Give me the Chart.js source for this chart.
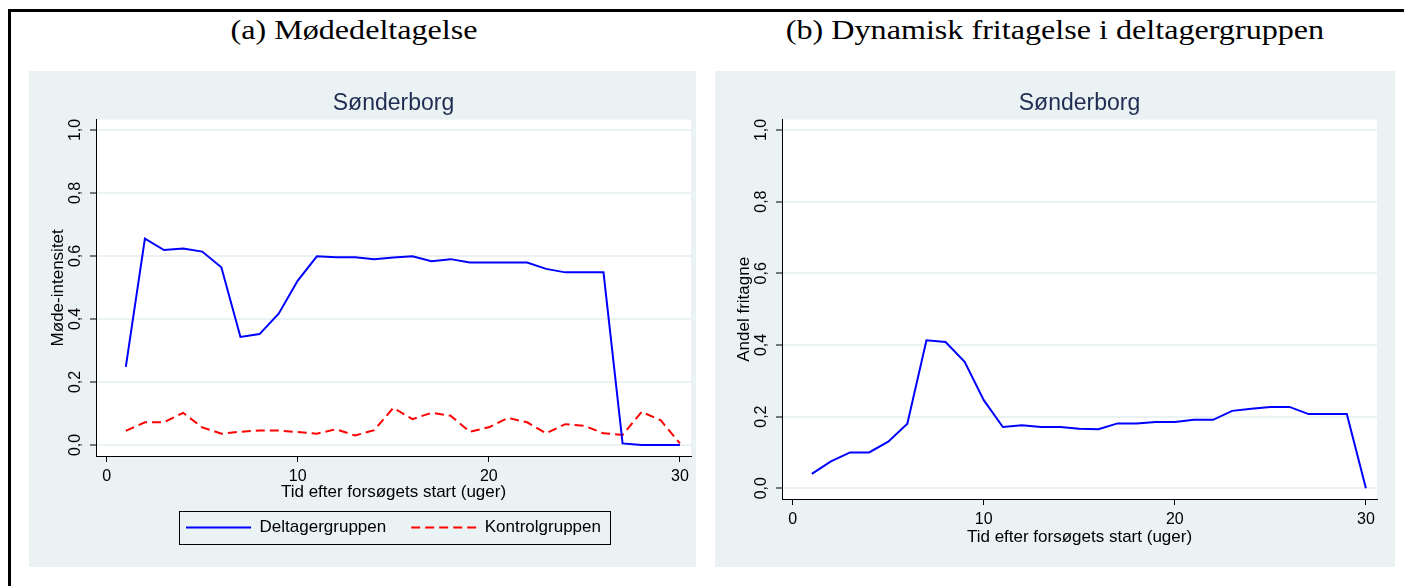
<!DOCTYPE html>
<html>
<head>
<meta charset="utf-8">
<script src="https://cdn.jsdelivr.net/npm/chart.js@4.4.1/dist/chart.umd.min.js"></script>
<style>
  body { margin: 0; background: #fff; width: 1404px; height: 586px; overflow: hidden; position: relative; }
  .frame { position: absolute; left: 8px; top: 9px; width: 1500px; height: 700px; border-top: 3px solid #000; border-left: 3px solid #000; }
  .caption { position: absolute; top: 17px; font-family: 'Liberation Serif', 'Times New Roman', serif; font-size: 27px; line-height: 27px; white-space: nowrap; color: #000; transform: translateX(-50%) scaleX(1.19); }
  .panel { position: absolute; top: 71px; height: 496px; background: #eaf2f3; }
  #panelA { left: 29px; width: 667px; }
  #panelB { left: 715px; width: 680px; }
</style>
</head>
<body>
<div class="frame"></div>
<div class="caption" style="left:354px">(a) Mødedeltagelse</div>
<div class="caption" style="left:1055px">(b) Dynamisk fritagelse i deltagergruppen</div>
<div class="panel" id="panelA"><canvas id="chartA"></canvas></div>
<div class="panel" id="panelB"><canvas id="chartB"></canvas></div>

<script>
// weeks since start of the trial
const weeks = [1, 2, 3, 4, 5, 6, 7, 8, 9, 10, 11, 12, 13, 14, 15, 16, 17, 18, 19, 20, 21, 22, 23, 24, 25, 26, 27, 28, 29, 30];

// (a) meeting intensity
const deltagere = [0.248, 0.655, 0.619, 0.624, 0.614, 0.564, 0.343, 0.352, 0.417, 0.522, 0.599, 0.596, 0.596, 0.590, 0.595, 0.599, 0.583, 0.590, 0.579, 0.579, 0.579, 0.579, 0.559, 0.548, 0.548, 0.548, 0.005, 0.0, 0.0, 0.0];
const kontrol = [0.045, 0.072, 0.072, 0.102, 0.056, 0.036, 0.042, 0.046, 0.046, 0.041, 0.036, 0.050, 0.030, 0.047, 0.118, 0.082, 0.102, 0.093, 0.042, 0.056, 0.086, 0.072, 0.037, 0.066, 0.061, 0.037, 0.032, 0.105, 0.078, 0.005];

// (b) share exempted in the participant group
const fritagne = [0.040, 0.075, 0.100, 0.100, 0.130, 0.180, 0.413, 0.408, 0.353, 0.246, 0.171, 0.176, 0.171, 0.171, 0.166, 0.165, 0.181, 0.181, 0.185, 0.185, 0.191, 0.191, 0.216, 0.222, 0.227, 0.227, 0.207, 0.207, 0.207, 0.0];

const xTicks = [0, 10, 20, 30];
const yTicks = [0, 0.2, 0.4, 0.6, 0.8, 1.0];

Chart.defaults.font.family = "'Liberation Sans', Arial, sans-serif";
Chart.defaults.color = '#000';

function points(values) {
  return weeks.map((w, i) => ({ x: w, y: values[i] }));
}

// white plot region on top of the grey-blue panel
const plotBg = {
  id: 'plotBg',
  beforeDraw(chart) {
    const a = chart.chartArea;
    chart.ctx.save();
    chart.ctx.fillStyle = '#fff';
    chart.ctx.fillRect(a.left, a.top, a.right - a.left, a.bottom - a.top);
    chart.ctx.restore();
  }
};

// thin black frame round the legend
const legendFrame = {
  id: 'legendFrame',
  afterDraw(chart) {
    const boxes = chart.legend && chart.legend.legendHitBoxes;
    if (!boxes || !boxes.length) return;
    const first = boxes[0], last = boxes[boxes.length - 1];
    const ctx = chart.ctx;
    ctx.save();
    ctx.strokeStyle = '#000';
    ctx.lineWidth = 1;
    ctx.strokeRect(Math.round(first.left - 7) + 0.5, Math.round(first.top - 8) + 0.5,
      Math.round(last.left + last.width - first.left + 16), Math.round(first.height + 16));
    ctx.restore();
  }
};

function scales(yTitle, xHeight, xTitlePad, yMin, yMax) {
  return {
    x: {
      type: 'linear',
      min: -0.56,
      max: 30.58,
      afterBuildTicks: s => { s.ticks = xTicks.map(v => ({ value: v })); },
      afterFit: s => { s.height = xHeight; },
      grid: { drawOnChartArea: false, tickLength: 6, tickColor: '#000', tickWidth: 1 },
      border: { color: '#000', width: 1 },
      ticks: { font: { size: 16 }, padding: 5, maxRotation: 0, autoSkip: false },
      title: { display: true, text: 'Tid efter forsøgets start (uger)', font: { size: 17 }, padding: { top: 0, bottom: xTitlePad } }
    },
    y: {
      min: yMin,
      max: yMax,
      afterBuildTicks: s => { s.ticks = yTicks.map(v => ({ value: v })); },
      afterFit: s => { s.width = 67; },
      grid: { color: '#eaf2f3', lineWidth: 2, tickLength: 6, tickColor: '#000', tickWidth: 1 },
      border: { color: '#000', width: 1 },
      ticks: {
        font: { size: 16 }, padding: 3, minRotation: 90, maxRotation: 90, crossAlign: 'center', autoSkip: false,
        callback: v => v.toFixed(1).replace('.', ',')
      },
      title: { display: true, text: yTitle, font: { size: 17 }, padding: { top: 19, bottom: 0 } }
    }
  };
}

const subTitle = {
  display: true,
  text: 'Sønderborg',
  fullSize: false,
  color: '#1f2d52',
  font: { size: 23, weight: 'normal' },
  padding: { top: 19, bottom: 2 }
};

new Chart(document.getElementById('chartA'), {
  type: 'line',
  data: {
    datasets: [{
      label: 'Deltagergruppen',
      data: points(deltagere),
      borderColor: '#0000ff',
      borderWidth: 2,
      pointRadius: 0,
      tension: 0
    }, {
      label: 'Kontrolgruppen',
      data: points(kontrol),
      borderColor: '#ff0000',
      borderWidth: 2,
      borderDash: [9, 5],
      pointRadius: 0,
      tension: 0
    }]
  },
  options: {
    responsive: true,
    maintainAspectRatio: false,
    animation: false,
    layout: { padding: { left: 0, right: 5, top: 0, bottom: 21 } },
    scales: scales('Møde-intensitet', 38, -9, -0.035, 1.033),
    plugins: {
      title: subTitle,
      tooltip: { enabled: false },
      legend: {
        position: 'bottom',
        fullSize: false,
        labels: {
          usePointStyle: true,
          pointStyle: 'line',
          pointStyleWidth: 65,
          padding: 25,
          font: { size: 17 },
          color: '#000',
          // point-style items lose the dataset dash, so copy it back
          generateLabels: chart => Chart.defaults.plugins.legend.labels.generateLabels(chart).map(item => {
            const ds = chart.data.datasets[item.datasetIndex];
            item.lineDash = ds.borderDash || [];
            item.strokeStyle = ds.borderColor;
            item.lineWidth = ds.borderWidth;
            return item;
          })
        }
      }
    }
  },
  plugins: [plotBg, legendFrame]
});

new Chart(document.getElementById('chartB'), {
  type: 'line',
  data: {
    datasets: [{
      label: 'Andel fritagne',
      data: points(fritagne),
      borderColor: '#0000ff',
      borderWidth: 2,
      pointRadius: 0,
      tension: 0
    }]
  },
  options: {
    responsive: true,
    maintainAspectRatio: false,
    animation: false,
    layout: { padding: { left: 0, right: 18, top: 0, bottom: 18 } },
    scales: scales('Andel fritagne', 50, 1, -0.03, 1.029),
    plugins: {
      title: subTitle,
      tooltip: { enabled: false },
      legend: { display: false }
    }
  },
  plugins: [plotBg]
});
</script>
</body>
</html>
